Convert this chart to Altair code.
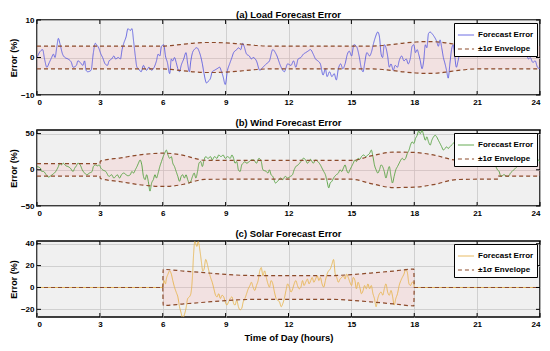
import altair as alt
import pandas as pd

# ---------------- data (hour, error %) ----------------
LOAD = [(0.00,0.0),(0.16,1.7),(0.27,2.1),(0.36,-0.4),(0.47,-2.6),(0.59,-1.3),(0.70,0.0),(0.78,0.9),(0.86,0.0),(0.94,2.6),(1.02,5.1),(1.09,3.8),(1.22,0.9),(1.33,0.0),(1.48,-0.4),(1.64,-1.3),(1.72,-2.6),(1.88,-2.1),(1.95,-0.9),(2.06,-1.3),(2.19,-2.1),(2.27,-0.9),(2.34,-3.4),(2.42,-3.8),(2.58,-3.4),(2.69,1.3),(2.78,3.8),(2.84,3.4),(2.94,2.6),(3.05,0.9),(3.13,0.0),(3.25,-1.7),(3.36,-2.1),(3.44,-0.9),(3.56,-0.4),(3.67,0.4),(3.75,-0.4),(3.88,0.0),(3.98,-0.4),(4.06,2.1),(4.14,3.8),(4.25,5.5),(4.34,7.7),(4.45,7.2),(4.53,7.7),(4.61,4.3),(4.69,0.4),(4.77,-2.6),(4.84,-3.0),(4.97,-3.8),(5.08,-2.1),(5.16,-3.0),(5.23,-3.4),(5.34,-2.6),(5.47,-3.4),(5.59,-2.6),(5.70,-0.9),(5.78,0.9),(5.86,0.4),(5.94,3.0),(6.05,3.4),(6.13,0.4),(6.22,-1.3),(6.33,-4.3),(6.41,-0.4),(6.48,-0.9),(6.56,0.0),(6.64,-1.3),(6.72,-3.0),(6.80,-3.8),(6.88,-2.1),(7.00,-0.4),(7.11,1.3),(7.19,-1.7),(7.27,-3.8),(7.34,-0.9),(7.42,1.3),(7.50,2.1),(7.63,2.6),(7.73,1.7),(7.89,-1.7),(7.97,-4.3),(8.09,-6.8),(8.16,-6.4),(8.28,-5.5),(8.36,-3.8),(8.47,-3.4),(8.59,-3.0),(8.72,-2.6),(8.78,-3.4),(8.88,-5.1),(8.98,-7.2),(9.09,-3.4),(9.19,-1.7),(9.30,0.0),(9.38,1.3),(9.53,2.1),(9.61,2.6),(9.72,2.1),(9.81,3.8),(9.88,3.0),(10.00,0.9),(10.13,0.4),(10.23,-0.4),(10.31,0.0),(10.47,-0.9),(10.63,-3.4),(10.78,-2.6),(10.94,-1.7),(11.09,-0.9),(11.25,2.1),(11.41,0.9),
        (11.65,-2.6),(11.80,-3.8),(11.96,-1.7),(12.12,-2.1),(12.24,-0.9),(12.35,-2.6),(12.46,-0.4),(12.59,0.0),(12.71,0.9),(12.82,1.3),(12.93,1.7),(13.05,2.1),(13.18,0.9),(13.29,-0.4),(13.40,-0.9),(13.52,-1.7),(13.65,-4.7),(13.76,-3.0),(13.84,-5.1),(13.96,-3.8),(14.07,-5.1),(14.18,-4.3),(14.28,-6.0),(14.38,-3.0),(14.49,-1.7),(14.59,-3.0),(14.70,-1.7),(14.81,0.9),(14.90,1.7),(15.01,0.4),(15.12,3.4),(15.24,3.0),(15.37,0.4),(15.48,-3.0),(15.56,-3.8),(15.63,-1.7),(15.74,1.3),(15.87,0.4),(15.95,1.3),(16.06,3.8),(16.15,5.5),(16.26,6.8),(16.34,5.5),(16.42,0.9),(16.49,0.0),(16.57,3.4),(16.65,2.6),(16.73,0.4),(16.81,-2.6),(16.89,-1.7),(17.00,-3.4),(17.09,-2.1),(17.20,-2.6),(17.28,-0.9),(17.40,0.4),(17.51,-0.9),(17.62,-0.4),(17.71,-1.7),(17.82,0.0),(17.90,3.0),(17.98,3.4),(18.06,1.3),(18.14,2.1),(18.21,0.9),(18.29,-0.9),(18.37,-3.0),(18.45,-0.9),(18.53,3.4),(18.60,2.6),(18.68,6.4),(18.76,6.8),(18.84,6.4),(18.96,5.5),(19.07,4.3),(19.15,3.0),(19.23,4.7),(19.31,2.6),(19.39,0.0),(19.47,-1.7),(19.54,-3.4),(19.62,-5.5),(19.70,-1.7),(19.78,2.1),(19.86,3.4),(19.93,0.4),(20.01,-2.6),(20.09,-0.9),(20.17,1.3),(20.25,3.8),(20.33,5.1),(20.49,6.0),(20.64,4.7),(20.80,3.0),(20.87,1.3),(20.95,0.9),(21.03,2.6),(21.19,3.8),(21.34,3.4),(21.50,3.0),(21.58,2.6),(21.66,3.4),(21.81,3.8),(21.97,3.4),(22.13,2.6),(22.28,3.4),(22.44,4.3),(22.59,5.1),(22.75,4.7),(22.98,4.3),(23.14,3.8),(23.25,1.7),(23.34,1.3),(23.45,-0.4),(23.53,0.0),(23.66,-1.3),(23.77,-0.9),(23.88,-2.6),(24.00,-3.0)]

WIND = [(0.00,4.5),(0.16,2.3),(0.23,-2.3),(0.31,-2.3),(0.44,-6.8),(0.55,-10.0),(0.66,-8.2),(0.78,-5.5),(0.86,-3.6),(0.94,0.0),(1.02,4.5),(1.09,9.1),(1.17,6.8),(1.25,9.1),(1.38,5.5),(1.48,4.5),(1.59,2.3),(1.72,-2.3),(1.80,2.3),(1.88,5.5),(1.95,9.1),(2.06,6.8),(2.16,0.0),(2.27,-4.5),(2.38,-6.8),(2.50,-4.5),(2.63,-2.3),(2.69,4.5),(2.78,6.8),(2.89,5.5),(2.97,6.8),(3.05,2.3),(3.13,0.0),(3.28,-2.3),(3.44,-9.1),(3.56,-6.8),(3.67,-11.4),(3.75,-9.1),(3.83,-6.8),(3.94,-11.4),(4.03,-6.8),(4.14,-4.5),(4.25,-6.8),(4.34,-8.2),(4.45,-6.8),(4.53,-2.3),(4.61,-4.5),(4.69,0.0),(4.77,4.5),(4.84,9.1),(4.92,13.6),(5.00,6.8),(5.08,-9.1),(5.16,-13.6),(5.23,-6.8),(5.31,-15.9),(5.39,-29.5),(5.47,-18.2),(5.55,-13.6),(5.63,-6.8),(5.70,-11.4),(5.78,-4.5),(5.86,4.5),(5.94,11.4),(6.02,18.2),(6.09,22.7),(6.17,27.3),(6.25,20.5),(6.33,15.9),(6.41,18.2),(6.48,9.1),(6.56,4.5),(6.64,-2.3),(6.72,-9.1),(6.80,-15.9),(6.88,-9.1),(6.95,-6.8),(7.03,-11.4),(7.11,-6.8),(7.19,-13.6),(7.27,-18.2),(7.34,-15.9),(7.42,-9.1),(7.50,-4.5),(7.58,-11.4),(7.66,-2.3),(7.73,9.1),(7.81,11.4),(7.89,4.5),(7.97,13.6),(8.05,18.2),(8.16,15.9),(8.28,18.2),(8.36,13.6),(8.47,18.2),(8.59,15.9),(8.67,20.5),(8.78,18.2),(8.88,20.5),(8.98,15.9),(9.09,18.2),(9.22,15.9),(9.30,20.5),(9.38,15.9),(9.45,9.1),(9.53,11.4),(9.61,0.0),(9.69,-2.3),(9.77,6.8),(9.84,9.1),(9.92,11.4),(10.00,9.1),(10.13,11.4),(10.23,13.6),(10.34,13.6),(10.47,9.1),(10.59,15.9),(10.70,11.4),(10.78,0.0),(10.94,-2.3),(11.02,-4.5),(11.09,0.0),(11.17,-6.8),(11.25,-9.1),(11.38,-18.2),(11.48,-15.9),
        (11.62,-11.4),(11.73,-13.6),(11.84,-9.1),(11.96,-11.4),(12.09,-9.1),(12.19,-6.8),(12.27,0.0),(12.35,4.5),(12.46,6.8),(12.59,11.4),(12.71,15.9),(12.82,13.6),(12.90,9.1),(12.98,11.4),(13.05,14.5),(13.18,9.1),(13.29,13.6),(13.40,11.4),(13.52,6.8),(13.60,2.3),(13.68,-2.3),(13.76,-6.8),(13.84,-15.9),(13.92,-25.0),(13.99,-18.2),(14.07,-15.9),(14.15,-11.4),(14.28,-6.8),(14.38,-4.5),(14.46,0.0),(14.54,-2.3),(14.62,2.3),(14.70,6.8),(14.77,0.0),(14.85,-4.5),(14.93,0.0),(15.01,4.5),(15.09,9.1),(15.17,13.6),(15.24,11.4),(15.32,15.9),(15.40,14.5),(15.48,18.2),(15.59,20.5),(15.68,18.2),(15.79,20.5),(15.87,22.7),(15.95,27.3),(16.03,18.2),(16.10,6.8),(16.18,0.0),(16.26,-4.5),(16.34,0.0),(16.42,6.8),(16.49,4.5),(16.57,-2.3),(16.65,-11.4),(16.73,-2.3),(16.81,4.5),(16.89,-9.1),(16.96,-18.2),(17.04,-9.1),(17.12,0.0),(17.20,4.5),(17.28,9.1),(17.36,13.6),(17.43,15.9),(17.51,13.6),(17.59,15.9),(17.67,22.7),(17.75,27.3),(17.82,34.1),(17.90,38.6),(17.98,36.4),(18.06,43.2),(18.14,47.7),(18.21,53.6),(18.29,50.0),(18.37,54.5),(18.45,47.7),(18.53,40.9),(18.60,45.5),(18.68,38.6),(18.76,34.1),(18.84,40.9),(18.92,45.5),(19.00,47.7),(19.07,45.5),(19.15,40.9),(19.23,36.4),(19.31,31.8),(19.39,27.3),(19.47,29.5),(19.54,31.8),(19.62,29.5),(19.70,31.8),(19.78,34.1),(19.86,36.4),(19.93,38.6),(20.01,36.4),(20.25,27.3),(20.56,15.9),(20.80,13.6),(20.95,11.4),(21.11,15.9),(21.26,13.6),(21.42,18.2),(21.58,15.9),(21.73,9.1),(21.81,6.8),(21.89,4.5),(21.97,0.0),(22.05,-2.3),(22.13,-9.1),(22.20,-8.2),(22.28,-6.8),(22.44,-9.1),(22.52,-8.2),(22.59,-4.5),(22.67,-2.3),(22.75,0.0),(22.91,4.5),(23.03,6.8),(23.14,9.1),(23.22,13.6),(23.34,14.5),(23.45,13.6),(23.56,15.9),(23.66,13.6),(23.77,14.5),(23.84,11.4),(23.92,13.6),(24.00,11.4)]

SOLAR = [(0.00,0.0),(6.00,0.0),(6.06,6.3),(6.13,3.3),(6.17,7.7),(6.25,12.2),(6.33,15.2),(6.41,12.2),(6.48,6.3),(6.56,0.3),(6.64,-4.2),(6.72,-8.6),(6.80,-17.6),(6.88,-23.5),(6.95,-28.0),(7.03,-25.0),(7.11,-19.0),(7.19,-10.1),(7.27,-8.6),(7.34,-5.7),(7.42,10.7),(7.47,30.1),(7.53,42.0),(7.63,37.5),(7.69,42.0),(7.78,33.0),(7.84,24.1),(7.91,15.2),(7.97,16.7),(8.05,25.6),(8.13,21.1),(8.20,15.2),(8.28,9.2),(8.36,4.8),(8.44,-1.2),(8.52,-7.1),(8.59,-8.6),(8.67,-5.7),(8.75,-10.1),(8.83,-7.1),(8.91,-8.6),(8.98,-13.1),(9.06,-16.1),(9.14,-13.1),(9.22,-10.1),(9.30,-8.6),(9.38,-14.6),(9.45,-16.1),(9.53,-11.6),(9.61,-17.6),(9.69,-20.5),(9.77,-19.0),(9.84,-13.1),(9.92,-10.1),(10.00,-5.7),(10.08,-1.2),(10.16,1.8),(10.23,4.8),(10.31,0.3),(10.39,-2.7),(10.47,1.8),(10.55,6.3),(10.63,15.2),(10.70,18.2),(10.78,10.7),(10.86,15.2),(10.94,9.2),(11.02,3.3),(11.09,0.3),(11.17,6.3),(11.25,3.3),(11.33,-4.2),(11.41,-10.1),(11.48,-11.6),
         (11.57,-13.1),(11.65,-17.6),(11.73,-14.6),(11.80,-10.1),(11.88,-2.7),(11.96,3.3),(12.04,0.3),(12.12,-4.2),(12.20,-1.2),(12.27,3.3),(12.35,6.3),(12.43,1.8),(12.51,-1.2),(12.59,0.3),(12.67,6.3),(12.74,1.8),(12.82,4.8),(12.90,7.7),(12.98,3.3),(13.06,6.3),(13.13,9.2),(13.21,4.8),(13.29,7.7),(13.37,10.7),(13.45,6.3),(13.52,9.2),(13.60,3.3),(13.68,0.3),(13.76,6.3),(13.84,12.2),(13.91,15.2),(13.99,16.7),(14.07,21.1),(14.15,25.6),(14.23,12.2),(14.30,9.2),(14.38,4.8),(14.46,7.7),(14.54,9.2),(14.62,10.7),(14.70,7.7),(14.77,12.2),(14.85,9.2),(14.93,4.8),(15.01,1.8),(15.09,9.2),(15.17,6.3),(15.24,-1.2),(15.32,4.8),(15.40,0.3),(15.48,-5.7),(15.56,-2.7),(15.63,1.8),(15.71,-1.2),(15.79,3.3),(15.87,-1.2),(15.95,1.8),(16.03,-5.7),(16.10,-10.1),(16.18,-17.6),(16.26,-10.1),(16.34,-5.7),(16.42,-4.2),(16.50,-7.1),(16.57,-1.2),(16.65,3.3),(16.73,-4.2),(16.81,-7.1),(16.89,-2.7),(16.97,-8.6),(17.04,-16.1),(17.12,-10.1),(17.20,-5.7),(17.28,1.8),(17.36,6.3),(17.43,9.2),(17.51,12.2),(17.59,16.7),(17.67,13.7),(17.75,3.3),(17.82,1.8),(17.90,4.8),(17.98,4.8),(18.00,0.0),(24.00,0.0)]

# one-sigma envelope (hour, sigma)
LOAD_SIGMA = [(0,3.05),(6,3.05),(6.5,3.25),(7,3.55),(7.5,3.85),(8,4.0),(8.5,4.0),(9,3.9),(9.5,3.7),(10,3.45),(10.5,3.2),(11,3.05),(16,3.05),(16.5,3.2),(17,3.5),(17.5,3.85),(18,4.1),(18.5,4.25),(19,4.2),(19.5,3.9),(20,3.5),(20.5,3.2),(21,3.05),(24,3.05)]
WIND_SIGMA = [(0,8.6),(3.0,8.6),(3.02,12.0),(4,16.5),(5,21.0),(6,23.0),(7,20.0),(7.5,16.0),(8,13.2),(9,13.0),(15,13.0),(16,19.5),(17,24.5),(18,24.0),(19,20.0),(20,13.5),(21,13.0),(22.0,13.0),(22.02,8.6),(24,8.6)]
SOLAR_SIGMA = [(0,0.0),(6.0,0.0),(6.02,16.5),(7,15.0),(8,13.5),(9,12.0),(10,11.0),(11,10.8),(12,10.8),(13,10.8),(14,10.8),(15,11.8),(16,13.3),(17,15.0),(17.98,16.8),(18.0,0.0),(24,0.0)]

TITLES = ["(a) Load Forecast Error", "(b) Wind Forecast Error", "(c) Solar Forecast Error"]
LINE_COLORS = ["#5e5ee0", "#55a040", "#e6b450"]
Y_DOMAINS = [(-10, 10), (-50, 55), (-27, 42.5)]
Y_TICKS = [[-10, 0, 10], [-50, 0, 50], [-20, 0, 20, 40]]
X_TICKS = [0, 3, 6, 9, 12, 15, 18, 21, 24]
SERIES = ["Forecast Error", "\u00b11\u03c3 Envelope"]

ENV_COLOR = "#8c4a2a"
FONT = "Liberation Sans"
W = 503
HEIGHTS = [75, 76, 76]
TITLE_OFFSETS = [-3, 2, 1]


def panel(idx, data, sigma, show_xtitle):
    h = HEIGHTS[idx]
    xs = alt.Scale(domain=[0, 24], nice=False, zero=False)
    ys = alt.Scale(domain=list(Y_DOMAINS[idx]), nice=False, zero=False)
    xaxis = alt.Axis(values=X_TICKS, title="Time of Day (hours)" if show_xtitle else None,
                     labelFlush=True)
    yaxis = alt.Axis(values=Y_TICKS[idx], title="Error (%)")

    rows = []
    for i, (t, v) in enumerate(data):
        rows.append({"h": t, "v": v, "series": SERIES[0], "bound": "fe", "i": i})
    for i, (t, s) in enumerate(sigma):
        rows.append({"h": t, "v": s, "series": SERIES[1], "bound": "up", "i": i})
        rows.append({"h": t, "v": -s, "series": SERIES[1], "bound": "lo", "i": i})
    df = pd.DataFrame(rows)
    band = pd.DataFrame({"h": [t for t, s in sigma], "v": [-s for t, s in sigma],
                         "s": [s for t, s in sigma]})

    base_area = alt.Chart(band).mark_area(color="#ff9a9a", opacity=0.17, interpolate="monotone").encode(
        x=alt.X("h:Q", scale=xs, axis=xaxis),
        y=alt.Y("v:Q", scale=ys, axis=yaxis),
        y2="s:Q",
    )
    lines = alt.Chart(df).mark_line(clip=True, interpolate="monotone").encode(
        x=alt.X("h:Q", scale=xs, axis=xaxis),
        y=alt.Y("v:Q", scale=ys, axis=yaxis),
        color=alt.Color("series:N", scale=alt.Scale(domain=SERIES, range=[LINE_COLORS[idx], ENV_COLOR]),
                        legend=alt.Legend(title=None, orient="top-right")),
        strokeDash=alt.StrokeDash("series:N", scale=alt.Scale(domain=SERIES, range=[[1, 0], [4, 3]]),
                                  legend=alt.Legend(title=None, orient="top-right")),
        strokeWidth=alt.StrokeWidth("series:N", scale=alt.Scale(domain=SERIES, range=[0.9, 1.2]), legend=None),
        detail="bound:N",
        order="i:Q",
    )
    xt = pd.DataFrame({"h": X_TICKS})
    yt = pd.DataFrame({"v": Y_TICKS[idx]})
    tk_top = alt.Chart(xt).mark_rule(color="black", strokeWidth=1).encode(
        x=alt.X("h:Q", scale=xs, axis=xaxis), y=alt.value(0), y2=alt.value(4))
    tk_bot = alt.Chart(xt).mark_rule(color="black", strokeWidth=1).encode(
        x=alt.X("h:Q", scale=xs, axis=xaxis), y=alt.value(h - 4), y2=alt.value(h))
    tk_l = alt.Chart(yt).mark_rule(color="black", strokeWidth=1).encode(
        y=alt.Y("v:Q", scale=ys, axis=yaxis), x=alt.value(0), x2=alt.value(4))
    tk_r = alt.Chart(yt).mark_rule(color="black", strokeWidth=1).encode(
        y=alt.Y("v:Q", scale=ys, axis=yaxis), x=alt.value(W - 4), x2=alt.value(W))

    return alt.layer(base_area, lines, tk_top, tk_bot, tk_l, tk_r).properties(
        width=W, height=h,
        title=alt.TitleParams(TITLES[idx], fontSize=9.5, fontWeight="bold", font=FONT,
                              anchor="middle", offset=TITLE_OFFSETS[idx], color="black"),
    )


pa = panel(0, LOAD, LOAD_SIGMA, False)
pb = panel(1, WIND, WIND_SIGMA, False)
pc = panel(2, SOLAR, SOLAR_SIGMA, True)

chart = alt.vconcat(pa, pb, pc, spacing=10).resolve_scale(
    color="independent", strokeDash="independent", strokeWidth="independent"
).properties(
    padding={"left": 0, "top": 0, "right": 0, "bottom": 0}
).configure_view(
    fill="#f0f0f0", stroke="black", strokeWidth=1.5
).configure_axis(
    labelFont=FONT, labelFontWeight="bold", labelFontSize=8, labelColor="black",
    titleFont=FONT, titleFontWeight="bold", titleFontSize=9, titleColor="black",
    domain=False, ticks=False, grid=True, gridColor="#c8c8c8", gridWidth=0.8,
    labelPadding=3, titlePadding=2,
).configure_axisX(titlePadding=4, titleFontSize=9.5).configure_legend(
    fillColor="white", strokeColor="black", strokeWidth=1, padding=3, offset=3,
    labelFont=FONT, labelFontWeight="bold", labelFontSize=8, labelColor="black",
    symbolType="stroke", symbolSize=260, symbolStrokeWidth=1.2, rowPadding=1,
    labelOffset=3, cornerRadius=0,
)

chart.save("out.html", embed_options={"renderer": "svg", "actions": False})
